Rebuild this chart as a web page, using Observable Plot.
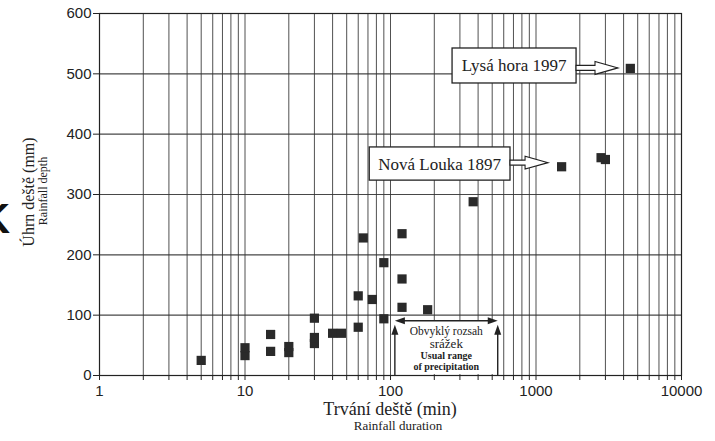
<!DOCTYPE html>
<html><head><meta charset="utf-8">
<script src="https://cdn.jsdelivr.net/npm/d3@7"></script>
<script src="https://cdn.jsdelivr.net/npm/@observablehq/plot@0.6"></script>
<style>body{margin:0;background:#fff}#chart svg{display:block;overflow:visible}</style>
</head><body><div id="chart"></div>
<script>
// Rainfall duration (min) and depth (mm)
const durations = [5, 10, 10, 15, 15, 20, 20, 30, 30, 30, 40, 46, 60, 60, 65, 75, 90, 90, 120, 120, 120, 180, 370, 1500, 2800, 3000, 4450];
const depths    = [25, 33, 46, 68, 40, 38, 48, 95, 53, 63, 70, 70, 80, 132, 228, 126, 187, 94, 235, 160, 113, 109, 288, 346, 361, 358, 509];

const xTicks = [1,2,3,4,5,6,7,8,9,10,20,30,40,50,60,70,80,90,100,200,300,400,500,600,700,800,900,1000,2000,3000,4000,5000,6000,7000,8000,9000,10000];
const xLabels = [1, 10, 100, 1000, 10000];
const yTicks = [0, 100, 200, 300, 400, 500, 600];

const callouts = [
  {label: "Lysá hora 1997",  x1: 267, x2: 1900, y1: 484, y2: 542, tip: 3690, y: 509},
  {label: "Nová Louka 1897", x1: 72,  x2: 668,  y1: 323, y2: 378, tip: 1220, y: 352}
];
const usualRange = [108, 550];
const usualRangeTop = 90;
const usualText = ["Obvyklý rozsah", "srážek", "Usual range", "of precipitation"];

const data = durations.map((d, i) => ({d, v: depths[i]}));
const ink = "#222";

const chart = Plot.plot({
  width: 715, height: 441,
  marginLeft: 99, marginRight: 34, marginTop: 13, marginBottom: 66,
  x: {type: "log", domain: [1, 10000]},
  y: {domain: [0, 600]},
  style: {fontFamily: "Liberation Sans, Arial, sans-serif", fontSize: "15px", background: "white", color: ink},
  marks: [
    Plot.gridX(xTicks, {stroke: "#333", strokeOpacity: 0.85, strokeWidth: 1}),
    Plot.gridY(yTicks, {stroke: "#333", strokeOpacity: 0.9, strokeWidth: 1.2}),
    Plot.frame({stroke: ink, strokeWidth: 1.2}),
    Plot.axisX(xTicks, {tickSize: 5, tickPadding: 5, tickFormat: d => xLabels.includes(d) ? String(d) : "", label: null, stroke: ink}),
    Plot.axisY(yTicks, {tickSize: 6, tickPadding: 2, tickFormat: d => String(d), label: null, stroke: ink}),
    Plot.dot(data, {x: "d", y: "v", symbol: "square", r: 5.2, fill: "#2a2a2a"})
  ]
});
document.getElementById("chart").append(chart);

const sx = v => chart.scale("x").apply(v);
const sy = v => chart.scale("y").apply(v);
const svg = d3.select(chart);
const g = svg.append("g");
const serif = "Liberation Serif, Times New Roman, serif";

// callout boxes with hollow arrows
for (const c of callouts) {
  const bx1 = sx(c.x1), bx2 = sx(c.x2), by1 = sy(c.y2), by2 = sy(c.y1);
  g.append("rect").attr("x", bx1).attr("y", by1).attr("width", bx2 - bx1).attr("height", by2 - by1)
    .attr("fill", "white").attr("stroke", ink).attr("stroke-width", 1.3);
  g.append("text").attr("x", (bx1 + bx2) / 2).attr("y", (by1 + by2) / 2 + 6)
    .attr("text-anchor", "middle").attr("font-family", serif).attr("font-size", 17).attr("fill", ink).text(c.label);
  const py = sy(c.y), tx = sx(c.tip), hx = tx - 23;
  const pts = [[bx2, py - 2.5], [hx, py - 2.5], [hx, py - 6.5], [tx, py], [hx, py + 6.5], [hx, py + 2.5], [bx2, py + 2.5]];
  g.append("polygon").attr("points", pts.map(p => p.join(",")).join(" "))
    .attr("fill", "white").attr("stroke", ink).attr("stroke-width", 1.1);
}

// usual range annotation
{
  const xl = sx(usualRange[0]), xr = sx(usualRange[1]), yt = sy(usualRangeTop), yb = sy(0);
  g.append("rect").attr("x", xl).attr("y", yt).attr("width", xr - xl).attr("height", yb - yt - 1).attr("fill", "white");
  g.append("line").attr("x1", xl + 6).attr("x2", xr - 6).attr("y1", yt).attr("y2", yt).attr("stroke", ink).attr("stroke-width", 1.4);
  g.append("path").attr("d", `M${xl},${yt}L${xl + 10},${yt - 3.5}L${xl + 10},${yt + 3.5}Z`).attr("fill", ink);
  g.append("path").attr("d", `M${xr},${yt}L${xr - 10},${yt - 3.5}L${xr - 10},${yt + 3.5}Z`).attr("fill", ink);
  for (const x of [xl, xr]) {
    g.append("line").attr("x1", x).attr("x2", x).attr("y1", yt + 8).attr("y2", yb).attr("stroke", ink).attr("stroke-width", 1.4);
    g.append("path").attr("d", `M${x},${yt + 4}L${x - 3.5},${yt + 14}L${x + 3.5},${yt + 14}Z`).attr("fill", ink);
  }
  const cx = (xl + xr) / 2;
  const lines = [
    {t: usualText[0], y: yt + 14, s: 11.5, w: "normal"},
    {t: usualText[1], y: yt + 27, s: 13, w: "normal"},
    {t: usualText[2], y: yt + 38, s: 10, w: "bold"},
    {t: usualText[3], y: yt + 49, s: 10, w: "bold"}
  ];
  for (const l of lines) {
    g.append("text").attr("x", cx).attr("y", l.y).attr("text-anchor", "middle").attr("font-family", serif)
      .attr("font-size", l.s).attr("font-weight", l.w).attr("fill", ink).text(l.t);
  }
}

// axis titles
g.append("text").attr("x", 390).attr("y", 415).attr("text-anchor", "middle").attr("font-family", serif).attr("font-size", 18).attr("fill", ink).text("Trvání deště (min)");
g.append("text").attr("x", 398).attr("y", 430).attr("text-anchor", "middle").attr("font-family", serif).attr("font-size", 13).attr("fill", ink).text("Rainfall duration");
g.append("text").attr("transform", "translate(34,192) rotate(-90)").attr("text-anchor", "middle").attr("font-family", serif).attr("font-size", 16).attr("fill", ink).text("Úhrn deště (mm)");
g.append("text").attr("transform", "translate(47,191) rotate(-90)").attr("text-anchor", "middle").attr("font-family", serif).attr("font-size", 12).attr("fill", ink).text("Rainfall depth");
// stray scanned letter at left edge
g.append("text").attr("x", 10).attr("y", 233).attr("text-anchor", "end").attr("font-family", "Liberation Sans, Arial, sans-serif")
  .attr("font-weight", "bold").attr("font-size", 42).attr("fill", "#111").text("K");
</script>
</body></html>
